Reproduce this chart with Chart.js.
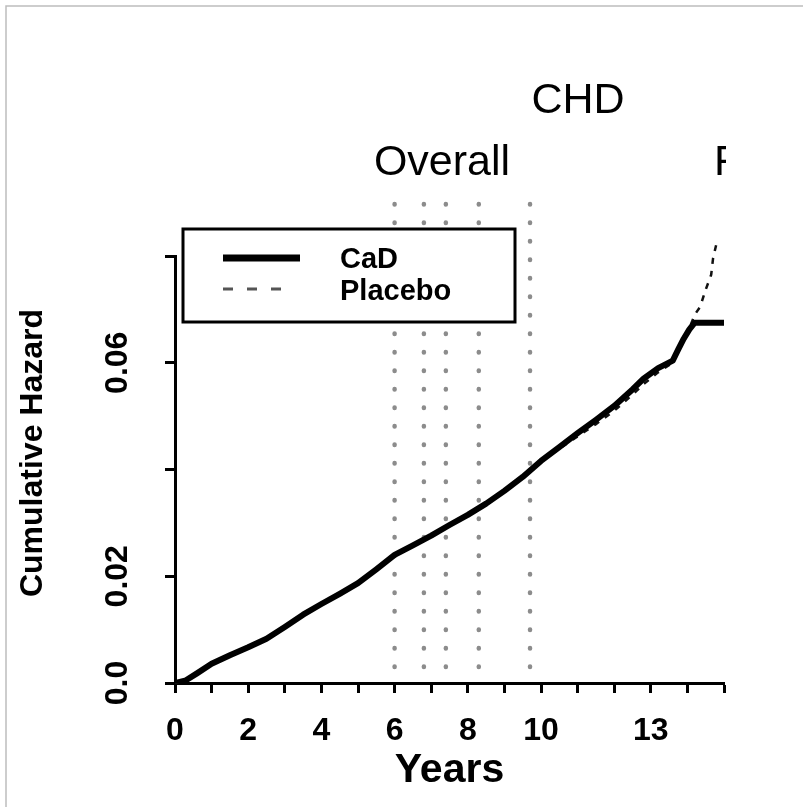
<!DOCTYPE html>
<html>
<head>
<meta charset="utf-8">
<script src="https://cdn.jsdelivr.net/npm/chart.js@4/dist/chart.umd.min.js"></script>
<style>
  html, body { margin: 0; padding: 0; background: #fff; }
  canvas { display: block; }
</style>
</head>
<body>
<canvas id="chd-chart" width="803" height="807"></canvas>
<script>
// years since randomisation
const cadYears = [0, 0.3, 0.6, 1, 1.5, 2, 2.5, 3, 3.5, 4, 4.5, 5, 5.5, 6, 6.5, 7, 7.5, 8, 8.5, 9, 9.5, 10,
    10.5, 11, 11.5, 12, 12.5, 12.8, 13.2, 13.6, 13.75, 13.9, 14.05, 14.2, 15];
const cadHazard = [0, 0.0005, 0.0018, 0.0036, 0.0052, 0.0067, 0.0083, 0.0105, 0.0128, 0.0148, 0.0167, 0.0187,
    0.0213, 0.0240, 0.0258, 0.0276, 0.0296, 0.0315, 0.0336, 0.0360, 0.0386, 0.0416,
    0.0442, 0.0468, 0.0493, 0.0519, 0.0550, 0.0570, 0.0590, 0.0604, 0.0625, 0.0645, 0.0662, 0.0675, 0.0675];

const placeboYears = [0, 0.3, 0.6, 1, 1.5, 2, 2.5, 3, 3.5, 4, 4.5, 5, 5.5, 6, 6.5, 7, 7.5, 8, 8.5, 9, 9.5, 10,
    10.5, 11, 11.5, 12, 12.5, 12.8, 13.2, 13.6, 13.8, 14.0, 14.2, 14.35, 14.5, 14.65, 14.7, 14.8];
const placeboHazard = [0, 0.0005, 0.0018, 0.0036, 0.0052, 0.0067, 0.0083, 0.0105, 0.0128, 0.0148, 0.0167, 0.0187,
    0.0213, 0.0240, 0.0258, 0.0276, 0.0296, 0.0315, 0.0336, 0.0360, 0.0386, 0.0414,
    0.0439, 0.0462, 0.0485, 0.0510, 0.0540, 0.0560, 0.0582, 0.0600, 0.0630, 0.0655, 0.0690, 0.0705, 0.0737, 0.0765, 0.0795, 0.0825];

// dotted vertical reference lines (years) and their vertical extent
const refLineYears = [6.0, 6.8, 7.4, 8.3, 9.7];
const refLineSpan = [0.003, 0.0906];

const xTickLabels = [0, 2, 4, 6, 8, 10, 13];
const yTickValues = [0, 0.02, 0.06];
const yTickText = ['0.0', '0.02', '0.06'];

const FONT = '"Liberation Sans", Arial, Helvetica, sans-serif';

function toPoints(xs, ys) {
    return xs.map((x, i) => ({ x: x, y: ys[i] }));
}

const datasets = [
    {
        label: 'CaD',
        data: toPoints(cadYears, cadHazard),
        borderColor: '#000',
        borderWidth: 6,
        pointRadius: 0,
        tension: 0,
        borderJoinStyle: 'round'
    },
    {
        label: 'Placebo',
        data: toPoints(placeboYears, placeboHazard),
        borderColor: '#111',
        borderWidth: 2.5,
        borderDash: [6, 7],
        pointRadius: 0,
        tension: 0,
        clip: false
    }
];

refLineYears.forEach(yr => {
    datasets.push({
        label: 'ref ' + yr,
        data: [{ x: yr, y: refLineSpan[0] }, { x: yr, y: refLineSpan[1] }],
        borderColor: '#8c8c8c',
        borderWidth: 4.5,
        borderDash: [0.5, 18],
        borderCapStyle: 'round',
        pointRadius: 0,
        clip: false
    });
});

const decorations = {
    id: 'decorations',
    beforeDraw(chart) {
        const ctx = chart.ctx;
        ctx.save();
        ctx.fillStyle = '#fff';
        ctx.fillRect(0, 0, chart.width, chart.height);
        // scan frame
        ctx.strokeStyle = '#bdbdbd';
        ctx.lineWidth = 1.5;
        ctx.beginPath();
        ctx.moveTo(6, chart.height);
        ctx.lineTo(6, 6);
        ctx.lineTo(chart.width, 6);
        ctx.stroke();
        ctx.restore();
    },
    afterDatasetsDraw(chart) {
        const ctx = chart.ctx;
        const yScale = chart.scales.y;
        ctx.save();

        // y axis title, centred a bit above the middle of the axis
        ctx.save();
        ctx.translate(33, 453);
        ctx.rotate(-Math.PI / 2);
        ctx.fillStyle = '#000';
        ctx.textAlign = 'center';
        ctx.textBaseline = 'middle';
        ctx.font = 'bold 32px ' + FONT;
        ctx.fillText('Cumulative Hazard', 0, 0);
        ctx.restore();

        // legend box
        ctx.fillStyle = '#fff';
        ctx.fillRect(183, 229, 332, 93);
        ctx.strokeStyle = '#000';
        ctx.lineWidth = 3;
        ctx.strokeRect(183, 229, 332, 93);

        ctx.lineWidth = 7;
        ctx.beginPath();
        ctx.moveTo(223, 258);
        ctx.lineTo(300, 258);
        ctx.stroke();

        ctx.strokeStyle = '#555';
        ctx.lineWidth = 3;
        ctx.setLineDash([10, 14]);
        ctx.beginPath();
        ctx.moveTo(223, 289);
        ctx.lineTo(283, 289);
        ctx.stroke();
        ctx.setLineDash([]);

        ctx.fillStyle = '#000';
        ctx.textBaseline = 'middle';
        ctx.textAlign = 'left';
        ctx.font = 'bold 29px ' + FONT;
        ctx.fillText('CaD', 340, 260);
        ctx.fillText('Placebo', 340, 292);

        // headings
        ctx.textAlign = 'center';
        ctx.font = '43px ' + FONT;
        ctx.fillText('CHD', 578, 101);
        ctx.fillText('Overall', 442, 163);

        // cut-off heading at the right edge
        ctx.beginPath();
        ctx.rect(700, 130, 26, 60);
        ctx.clip();
        ctx.textAlign = 'left';
        ctx.fillText('F', 714, 163);

        ctx.restore();
    }
};

const ctx = document.getElementById('chd-chart').getContext('2d');
new Chart(ctx, {
    type: 'line',
    data: { datasets: datasets },
    options: {
        responsive: false,
        animation: false,
        events: [],
        layout: { padding: { left: 0, top: 256, right: 79, bottom: 0 } },
        plugins: {
            legend: { display: false },
            tooltip: { enabled: false }
        },
        scales: {
            x: {
                type: 'linear',
                min: 0,
                max: 15,
                afterFit: scale => { scale.height = 124; },
                border: { color: '#000', width: 3 },
                grid: {
                    drawOnChartArea: false,
                    drawTicks: true,
                    tickLength: 10,
                    tickWidth: 3,
                    tickColor: '#000'
                },
                ticks: {
                    stepSize: 1,
                    autoSkip: false,
                    maxRotation: 0,
                    padding: 19,
                    color: '#000',
                    font: { family: FONT, size: 32, weight: 'bold' },
                    callback: v => xTickLabels.includes(v) ? String(v) : ''
                },
                title: {
                    display: true,
                    text: 'Years',
                    color: '#000',
                    font: { family: FONT, size: 41, weight: 'bold' },
                    padding: { top: 0, bottom: 12 }
                }
            },
            y: {
                type: 'linear',
                min: 0,
                max: 0.08,
                afterFit: scale => { scale.width = 175; },
                border: { color: '#000', width: 3 },
                grid: {
                    drawOnChartArea: false,
                    drawTicks: true,
                    tickLength: 10,
                    tickWidth: 3,
                    tickColor: '#000'
                },
                ticks: {
                    stepSize: 0.02,
                    minRotation: 90,
                    maxRotation: 90,
                    crossAlign: 'center',
                    padding: 16,
                    color: '#000',
                    font: { family: FONT, size: 32, weight: 'bold' },
                    callback: v => {
                        const i = yTickValues.findIndex(t => Math.abs(t - v) < 1e-9);
                        return i >= 0 ? yTickText[i] : '';
                    }
                },
                title: { display: false }
            }
        }
    },
    plugins: [decorations]
});
</script>
</body>
</html>
